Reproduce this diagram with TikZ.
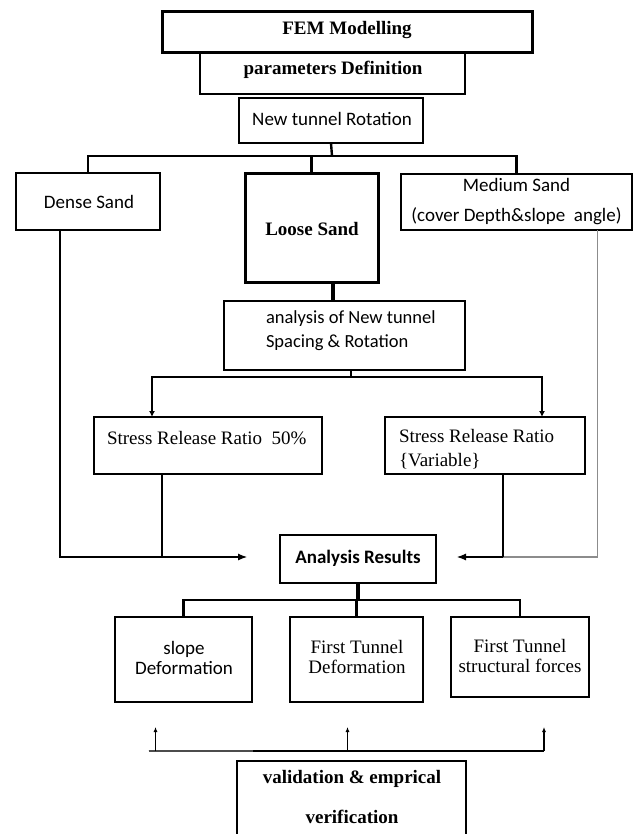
\documentclass[tikz,border=0pt]{standalone}
\usepackage{fontspec}
\setmainfont{Liberation Serif}
\newfontfamily\calfont{Carlito}
\usetikzlibrary{arrows.meta,calc}
\tikzset{
  bx/.style={draw, rectangle, inner sep=0pt, outer sep=0pt},
  bthick/.style={bx, line width=3pt},
  bmed/.style={bx, line width=2.4pt},
  bthin/.style={bx, line width=1.2pt},
  txt/.style={inner sep=0pt, outer sep=0pt},
  tserif/.style={txt, font=\fontsize{19}{24}\selectfont},
  tserifb/.style={txt, font=\fontsize{19}{24}\selectfont\bfseries},
  tsans/.style={txt, font=\calfont\fontsize{19}{24}\selectfont},
  tsansb/.style={txt, font=\calfont\fontsize{19}{24}\selectfont\bfseries},
  lthick/.style={line width=2.4pt},
  lheavy/.style={line width=3.5pt},
  lthin/.style={line width=1.1pt},
  lgrey/.style={line width=1.6pt, draw=black!45},
  tipbig/.style={-{Latex[length=9pt,width=7pt]}},
  tipmid/.style={{Latex[length=6pt,width=6pt]}-{Latex[length=6pt,width=6pt]}},
  tipsmall/.style={-{Latex[length=5pt,width=4pt]}},
}
\begin{document}
\begin{tikzpicture}[x=1pt,y=-1pt]
\useasboundingbox (0,0) rectangle (636,834);
\clip (0,0) rectangle (636,834);
\fill[white] (0,0) rectangle (636,834);

% boxes and texts
\node[bthin, minimum width=265pt, minimum height=41pt] (par) at (332.5,73.5) {};
\node[tserifb] (part) at (333,70) {parameters Definition};
\node[bthick, minimum width=370pt, minimum height=41pt] (fem) at (347,32.5) {};
\node[tserifb] (femt) at (347,30) {FEM Modelling};
\node[bmed, minimum width=184pt, minimum height=45pt] (ntr) at (331,120.5) {};
\node[tsans] (ntrt) at (332,119) {New tunnel Rotation};
\node[bmed, minimum width=144pt, minimum height=57pt] (dense) at (88,201.5) {};
\node[tsans] (denset) at (89,202) {Dense Sand};
\node[bthick, minimum width=133pt, minimum height=108pt] (loose) at (311.5,228) {};
\node[tserifb] (looset) at (312,229) {Loose Sand};
\node[bmed, minimum width=231pt, minimum height=56pt] (medium) at (516.5,202) {};
\node[tsans, align=center, font=\calfont\fontsize{19}{30}\selectfont] (mediumt) at (516.5,202) {Medium Sand\\(cover Depth\&slope\ \ angle)};
\node[bthin, minimum width=241pt, minimum height=69pt] (anal) at (344.5,335.5) {};
\node[tsans, anchor=west, align=left, font=\calfont\fontsize{18.5}{24}\selectfont] (analt) at (266,331) {analysis of New tunnel\\Spacing \& Rotation};
\node[bthin, minimum width=228pt, minimum height=57pt] (s50) at (208,445.5) {};
\node[tserif, anchor=west] (s50t) at (107,438) {Stress Release Ratio\ \ 50\%};
\node[bthin, minimum width=200pt, minimum height=57pt] (svar) at (485,445.5) {};
\node[tserif, anchor=west, align=left] (svart) at (399,449) {Stress Release Ratio\\\{Variable\}};
\node[bmed, minimum width=156pt, minimum height=48pt] (ar) at (358,559) {};
\node[tsansb] (art) at (358,558) {Analysis Results};
\node[bmed, minimum width=137pt, minimum height=85pt] (slope) at (183.5,659.5) {};
\node[tsans, align=center, font=\calfont\fontsize{19}{20}\selectfont] (slopet) at (184,658) {slope\\Deformation};
\node[bmed, minimum width=133pt, minimum height=85pt] (ftd) at (356.5,659.5) {};
\node[tserif, align=center, font=\fontsize{19}{20}\selectfont] (ftdt) at (357,657) {First Tunnel\\Deformation};
\node[bmed, minimum width=138pt, minimum height=80pt] (fts) at (520,657) {};
\node[tserif, align=center, font=\fontsize{19}{20}\selectfont] (ftst) at (520,656) {First Tunnel\\structural forces};
\node[bthin, minimum width=229pt, minimum height=99pt] (val) at (351.5,810.5) {};
\node[tserifb, align=center, font=\fontsize{19}{40}\selectfont\bfseries] (valt) at (352,797) {validation \& emprical\\verification};

% connectors: top tree
\coordinate (b1) at (332,156);
\draw[lthick] (ntr.south) -- (b1);
\draw[lthick] (dense.north) |- (b1) -| (medium.north);
\draw[lthick] (loose.north) -- (loose.north |- b1);
\draw[lheavy] ([xshift=21.5pt]loose.south) -- ([xshift=21.5pt]loose.south |- anal.north);

% analysis -> stress boxes
\coordinate (ba) at (351,377);
\draw[line width=1.5pt] ([xshift=6.5pt]anal.south) -- (ba);
\draw[lthick, tipmid] ([xshift=-56pt]s50.north) |- (ba) -| ([xshift=57pt]svar.north);

% side feeds into Analysis Results
\coordinate (tl) at ([xshift=-33pt,yshift=2pt]ar.west);
\coordinate (tr) at ([xshift=21pt,yshift=2pt]ar.east);
\draw[lthin, tipbig] ([xshift=-28pt]dense.south) |- (tl);
\draw[lthin] ([xshift=-46pt]s50.south) -- ([xshift=-46pt]s50.south |- tl);
\draw[lgrey] ([xshift=81pt]medium.south) |- ([xshift=18pt]svar.south |- tr);
\draw[lthin, tipbig] ([xshift=18pt]svar.south |- tr) -- (tr);
\draw[lthin] ([xshift=18pt]svar.south) -- ([xshift=18pt]svar.south |- tr);

% Analysis Results -> outputs
\coordinate (bb) at (358,600);
\draw[lheavy] (ar.south) -- (bb);
\draw[lthick] (slope.north) |- (bb) -| (fts.north);
\draw[lthick] (ftd.north) -- (ftd.north |- bb);

% validation feedback
\coordinate (vbar) at ([yshift=10pt]val.north);
\coordinate (a1) at ([xshift=-28pt,yshift=-25pt]slope.south);
\coordinate (a2) at ([xshift=-9pt,yshift=-25pt]ftd.south);
\coordinate (a3) at ([xshift=24pt,yshift=-30pt]fts.south);
\draw[lthin] ($(a1 |- vbar)+(-7,0)$) -- (a3 |- vbar);
\draw[line width=1.6pt, draw=black!70] ($(a1 |- vbar)+(-7,0)$) -- ($(a1 |- vbar)+(97,0)$);
\draw[lthin, tipsmall] (a1 |- vbar) -- (a1);
\draw[lthin, tipsmall] (a2 |- vbar) -- (a2);
\draw[lthin, tipsmall] (a3 |- vbar) -- (a3);
\end{tikzpicture}
\end{document}
